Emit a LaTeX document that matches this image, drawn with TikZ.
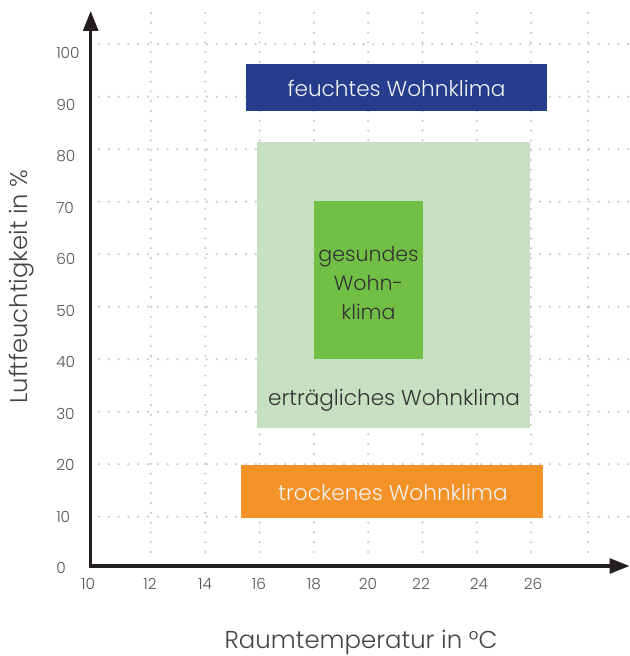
\documentclass[tikz,border=0pt]{standalone}
\usepackage{fontspec}
\setmainfont{Poppins Light}
\usetikzlibrary{arrows.meta}
\definecolor{gridc}{HTML}{CCCCCC}
\definecolor{axisc}{HTML}{231F20}
\definecolor{tickc}{HTML}{555555}
\definecolor{labc}{HTML}{444444}
\definecolor{darktext}{HTML}{333333}
\definecolor{feuchtc}{HTML}{253D8C}
\definecolor{ertrc}{HTML}{C6E0C0}
\definecolor{gesundc}{HTML}{72BF45}
\definecolor{trockc}{HTML}{F39227}
\definecolor{lighttext}{HTML}{F2F2F2}
\begin{document}
\begin{tikzpicture}[x=0.75pt,y=-0.75pt,
  griddot/.style={draw=gridc,line width=1.9pt,line cap=round,dash pattern=on 0pt off 7.35pt},
  axisline/.style={draw=axisc,line width=2.3pt,line join=miter},
  ticklab/.style={text=tickc,font=\fontsize{11.5}{13}\selectfont,inner sep=0pt},
  axislab/.style={text=labc,font=\fontsize{18.2}{20}\selectfont,inner sep=0pt},
  zonebox/.style={rectangle,inner sep=0pt,draw=none},
  zonetext/.style={font=\fontsize{16.2}{21.75}\selectfont,inner sep=0pt,align=center}
]
\useasboundingbox (0,0) rectangle (630,656);

% dotted grid
\foreach \x in {151,205.3,259.6,313.9,368.2,422.5,476.8,531.1,588}
  \draw[griddot] (\x,13) -- (\x,552);
\foreach \k in {1,...,10}
  \draw[griddot] (99,{516.7-52.5*(\k-1)}) -- (630,{516.7-52.5*(\k-1)});

% zones
\node[zonebox,fill=ertrc,minimum width=204.5pt,minimum height=214.3pt] (ertr) at (393.7,284.9) {};
\node[zonebox,fill=gesundc,minimum width=81.75pt,minimum height=118.5pt] (gesund) at (368.5,279.7) {};
\node[zonetext,text=darktext,font=\fontsize{15.4}{21.75}\selectfont] (gesundt) at (368.5,282.5) {gesundes\\Wohn-\\klima};
\node[zonetext,text=darktext] (ertrt) at (394,400) {erträgliches Wohnklima};
\node[zonebox,fill=feuchtc,minimum width=225.75pt,minimum height=35pt] (feucht) at (396.5,87.3) {};
\node[zonetext,text=lighttext] (feuchtt) at (396.5,88.5) {feuchtes Wohnklima};
\node[zonebox,fill=trockc,minimum width=226.3pt,minimum height=39.5pt] (trock) at (391.9,491.4) {};
\node[zonetext,text=lighttext] (trockt) at (393,492.5) {trockenes Wohnklima};

% axes
\coordinate (O) at (90.7,566);
\coordinate (ytip) at (90.7,11);
\coordinate (xtip) at (629.5,566);
\draw[axisline,{Triangle[width=11.25pt,length=15pt]}-{Triangle[width=11.25pt,length=15pt]}] (ytip) -- (O) -- (xtip);

% x tick labels
\foreach \v/\x in {10/88,12/150,14/205,16/259,18/314,20/368,22/421,24/479,26/533}
  \node[ticklab] (xl\v) at (\x,584) {\v};
% y tick labels
\foreach \v [count=\i from 0] in {0,10,20,30,40,50,60,70,80,90,100}
  \node[ticklab,anchor=west] (yl\v) at (56,{568-51.5*\i}) {\v};

% axis labels
\node[axislab,rotate=90] (ylab) at (22,286.5) {Luftfeuchtigkeit in \%};
\node[axislab,font=\fontsize{18.3}{20}\selectfont] (xlab) at (361,642) {Raumtemperatur in °C};
\end{tikzpicture}
\end{document}
